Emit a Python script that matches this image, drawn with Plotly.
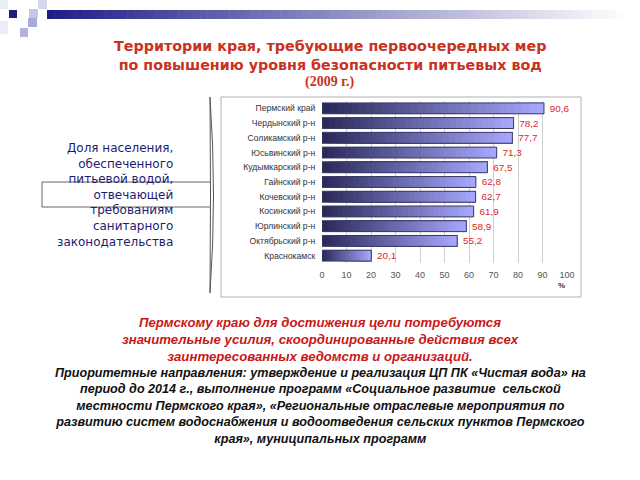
import plotly.graph_objects as go

# data
regions = ["Пермский край", "Чердынский р-н", "Соликамский р-н", "Юсьвинский р-н",
           "Кудымкарский р-н", "Гайнский р-н", "Кочевский р-н", "Косинский р-н",
           "Юрлинский р-н", "Октябрьский р-н", "Краснокамск"]
values = [90.6, 78.2, 77.7, 71.3, 67.5, 62.8, 62.7, 61.9, 58.9, 55.2, 20.1]
x_ticks = [0, 10, 20, 30, 40, 50, 60, 70, 80, 90, 100]

W, H = 640, 480

def px(x):
    return x / W

def py(y):
    return 1 - y / H

def mix(c1, c2, t):
    return "rgb(%d,%d,%d)" % tuple(round(a + (b - a) * t) for a, b in zip(c1, c2))

fig = go.Figure()

# bars with a left-to-right gradient: each slice runs to the bar end and
# the next (lighter) one is drawn over it, so no seams show
N = 30
dark, light = (42, 42, 90), (166, 166, 252)
for i in range(N):
    fig.add_trace(go.Bar(
        y=regions, x=[v * (N - i) / N for v in values], base=[v * i / N for v in values],
        orientation="h", width=0.74,
        marker=dict(color=mix(dark, light, i / (N - 1)), line=dict(width=0)),
        hoverinfo="skip", showlegend=False,
    ))

# outline + value labels
fig.add_trace(go.Bar(
    y=regions, x=values, base=0, orientation="h", width=0.74,
    marker=dict(color="rgba(0,0,0,0)", line=dict(color="#3a3a66", width=1)),
    text=["\u00a0" + f"{v:.1f}".replace(".", ",") for v in values],
    textposition="outside", cliponaxis=False,
    textfont=dict(color="#dc2626", size=10, family="Liberation Sans"),
    showlegend=False,
))

fig.update_layout(
    width=W, height=H, autosize=False, barmode="overlay",
    margin=dict(l=0, r=0, t=0, b=0, pad=0),
    paper_bgcolor="white", plot_bgcolor="white",
    font=dict(family="Liberation Sans", color="#333"),
    xaxis=dict(domain=[px(322), px(567)], range=[0, 100], tickvals=x_ticks,
               showgrid=True, gridcolor="#cfcfcf", gridwidth=1, zeroline=False,
               showline=False, tickfont=dict(size=9, color="#555"),
               ticks="outside", ticklen=3, tickcolor="white", automargin=False),
    yaxis=dict(domain=[py(263), py(101)], autorange="reversed",
               categoryorder="array", categoryarray=regions,
               tickfont=dict(size=8.6, color="#333"), showgrid=False,
               ticks="outside", ticklen=4, tickcolor="white", showline=False,
               automargin=False),
)

shapes = []
# header decoration
for (x0, y0, x1, y1, c) in [(0, 0, 8, 9, "#ececf6"), (0, 21, 8, 34, "#ececf6"),
                            (9, 10, 17, 18, "#1e1e78"), (38, 0, 47, 9, "#d6d6ee"),
                            (29, 9, 38, 18, "#c6c6e6"), (28, 18, 37, 27, "#a9a9d9"),
                            (20, 28, 28, 37, "#b2b2de")]:
    shapes.append(dict(type="rect", xref="paper", yref="paper", x0=px(x0), x1=px(x1),
                       y0=py(y0), y1=py(y1), fillcolor=c, line=dict(width=0), layer="below"))
steps = 80
x_start, x_end = 47, 630
for i in range(steps):
    xa = x_start + (x_end - x_start) * i / steps
    xb = x_start + (x_end - x_start) * (i + 1) / steps + 0.5
    shapes.append(dict(type="rect", xref="paper", yref="paper", x0=px(xa), x1=px(xb),
                       y0=py(10), y1=py(19), fillcolor=mix((30, 30, 135), (255, 255, 255), i / (steps - 1)),
                       line=dict(width=0), layer="below"))

# chart frame
shapes.append(dict(type="rect", xref="paper", yref="paper", x0=px(221), x1=px(581),
                   y0=py(97), y1=py(297), line=dict(color="#b0b0b0", width=1), layer="below"))

# arrow / bracket on the left
def path(points):
    return "M " + " L ".join(f"{px(x)},{py(y)}" for x, y in points)

shapes.append(dict(type="path", xref="paper", yref="paper",
                   path=path([(210, 182), (42, 182), (42, 207), (210, 207)]),
                   line=dict(color="#666", width=1)))
shapes.append(dict(type="path", xref="paper", yref="paper",
                   path=f"M {px(210)},{py(97)} Q {px(217)},{py(195)} {px(210)},{py(293)} "
                        f"Q {px(211)},{py(195)} {px(210)},{py(97)}",
                   line=dict(color="#555", width=1)))
fig.update_layout(shapes=shapes)

def note(x, y, text, **kw):
    fig.add_annotation(x=px(x), y=py(y), xref="paper", yref="paper", showarrow=False,
                       xanchor=kw.pop("xanchor", "center"), yanchor="middle",
                       borderpad=0, text=text, **kw)

title_red = "#c8321e"
note(330, 55, "<b>Территории края, требующие первоочередных мер<br>"
              "по повышению уровня безопасности питьевых вод</b>",
     font=dict(size=14.3, color=title_red, family="DejaVu Sans"))
note(329, 82, "<b>(2009 г.)</b>",
     font=dict(size=14, color=title_red, family="Liberation Serif"))

note(174, 195, "Доля населения,<br>обеспеченного<br>питьевой водой,<br>отвечающей<br>"
               "требованиям<br>санитарного<br>законодательства",
     xanchor="right", align="right",
     font=dict(size=12, color="#1c1c72", family="DejaVu Sans"))

note(561, 285, "<b>%</b>", font=dict(size=8, color="#333"))

note(320, 339, "<b><i>Пермскому краю для достижения цели потребуются<br>"
               "значительные усилия, скоординированные действия всех<br>"
               "заинтересованных ведомств и организаций.</i></b>",
     font=dict(size=13.2, color="#c81818", family="Liberation Sans"))
note(320, 406, "<b><i>Приоритетные направления: утверждение и реализация ЦП ПК «Чистая вода» на<br>"
               "период до 2014 г., выполнение программ «Социальное развитие  сельской<br>"
               "местности Пермского края», «Региональные отраслевые мероприятия по<br>"
               "развитию систем водоснабжения и водоотведения сельских пунктов Пермского<br>"
               "края», муниципальных программ</i></b>",
     font=dict(size=12.6, color="#111", family="Liberation Sans"))

fig.write_html("out.html",
               config={"displayModeBar": False, "responsive": False},
               post_script="document.body.style.margin='0';"
                           "document.documentElement.style.overflow='hidden';")
